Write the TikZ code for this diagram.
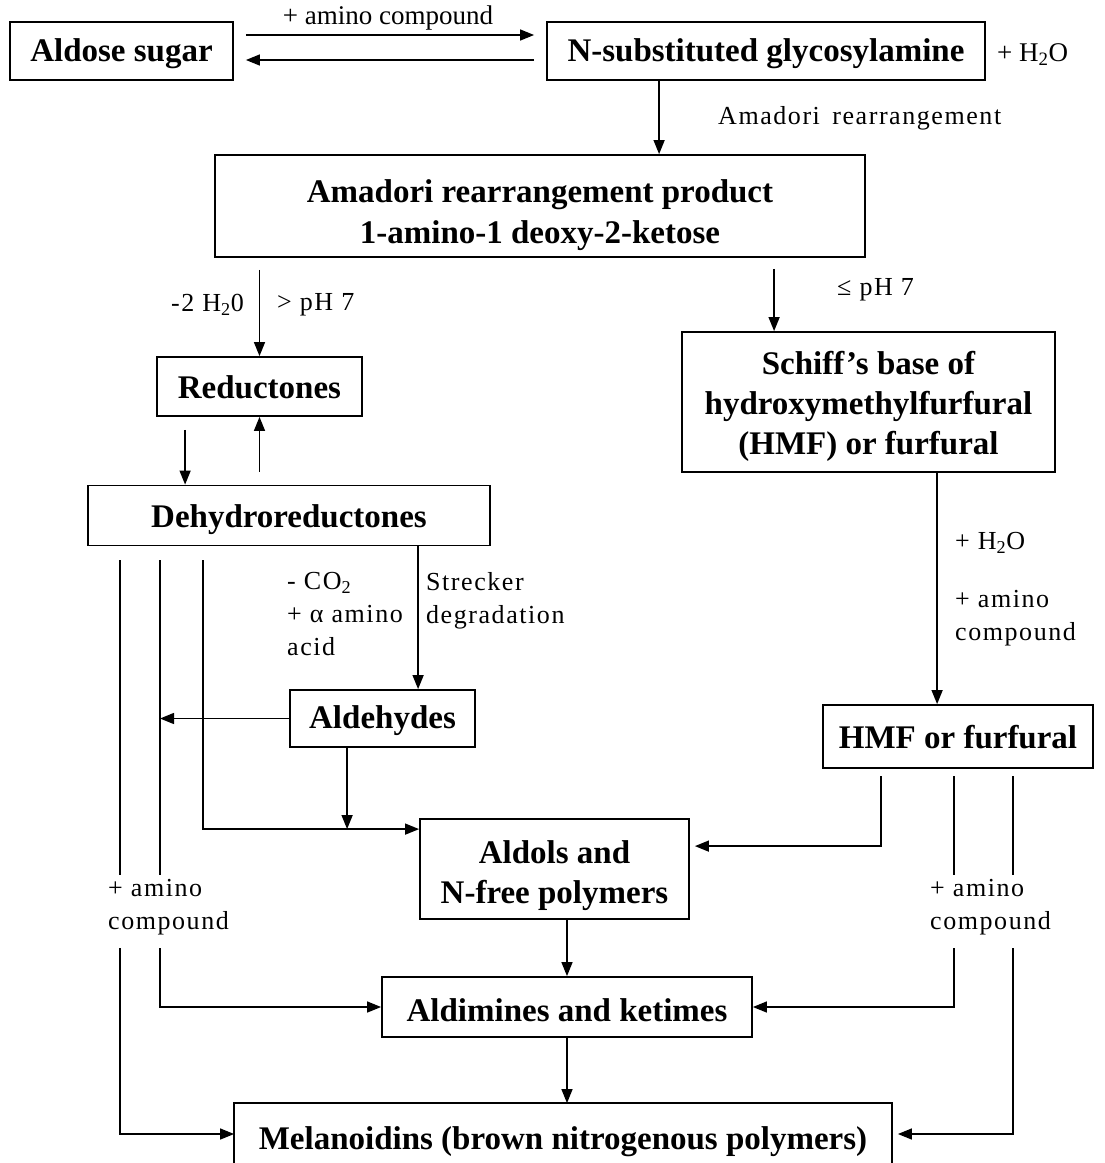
\documentclass[tikz,border=0pt]{standalone}
\usepackage{fontspec}
\setmainfont{Liberation Serif}
\newfontfamily\lblfont[LetterSpace=6]{Liberation Serif}
\newcommand\upstrut[1]{\rule{0pt}{#1}}
\usetikzlibrary{arrows.meta,calc}
\begin{document}
\begin{tikzpicture}[x=1pt,y=-1pt,
  box/.style={draw,line width=1.8pt,inner sep=0pt,align=center,
    font=\bfseries\fontsize{33}{40}\selectfont},
  lab/.style={inner sep=0pt,align=left,font=\lblfont\fontsize{26}{33}\selectfont},
  toplab/.style={inner sep=0pt,font=\fontsize{27}{30}\selectfont},
  conn/.style={line width=1.4pt},
  arr/.style={conn,-{Triangle[length=14pt,width=11pt]}},
]
\useasboundingbox (0,0) rectangle (1105,1163);

% boxes
\node[box,minimum width=223pt,minimum height=58pt] (aldose) at (121.5,51) {\upstrut{28.6pt}Aldose sugar};
\node[box,minimum width=438pt,minimum height=58pt] (nsub) at (766,51) {\upstrut{28.6pt}N-substituted glycosylamine};
\node[box,minimum width=650pt,minimum height=102pt,font=\bfseries\fontsize{33}{41}\selectfont] (amadori) at (540,206)
  {\upstrut{41pt}Amadori rearrangement product\\1-amino-1 deoxy-2-ketose};
\node[box,minimum width=205pt,minimum height=59pt] (reduct) at (259.5,386.5) {\upstrut{24.6pt}Reductones};
\node[box,minimum width=373pt,minimum height=140pt] (schiff) at (868.5,402)
  {\upstrut{32.5pt}Schiff’s base of\\hydroxymethylfurfural\\(HMF) or furfural};
\node[box,minimum width=402pt,minimum height=60pt] (dehydro) at (289,515.5) {\upstrut{30.6pt}Dehydroreductones};
\node[box,minimum width=185pt,minimum height=57pt] (aldeh) at (382.5,718.5) {\upstrut{26.6pt}Aldehydes};
\node[box,minimum width=270pt,minimum height=63pt] (hmf) at (958,736.5) {\upstrut{24.6pt}HMF or furfural};
\node[box,minimum width=269pt,minimum height=100pt] (aldols) at (554.5,869) {\upstrut{36.6pt}Aldols and\\N-free polymers};
\node[box,minimum width=370pt,minimum height=60pt] (aldim) at (567,1007) {\upstrut{28.6pt}Aldimines and ketimes};
\node[box,draw=none,minimum width=656pt,minimum height=60pt] (mel) at (563,1134)
  {\upstrut{39pt}Melanoidins (brown nitrogenous polymers)};
\draw[line width=1.8pt] (mel.south west) -- (mel.north west) -- (mel.north east) -- (mel.south east);

% labels
\node[toplab] (lab1) at (388,18) {+ amino compound};
\node[toplab,anchor=west] (lab2) at (997,55) {+ H\textsubscript{2}O};
\node[lab,anchor=west] (lab3) at (718,118) {Amadori\, rearrangement};
\node[lab,anchor=east] (lab4) at (244,305) {-2 H\textsubscript{2}0};
\node[lab,anchor=west] (lab5) at (277,305) {> pH 7};
\node[lab,anchor=west] (lab6) at (837,290) {≤ pH 7};
\node[lab,anchor=north west] (lab7) at (287,572) {- CO\textsubscript{2}\\+ α amino\\acid};
\node[lab,anchor=north west] (lab8) at (426,572) {Strecker\\degradation};
\node[lab,anchor=west] (lab9) at (955,543) {+ H\textsubscript{2}O};
\node[lab,anchor=west] (lab10) at (955,618) {+ amino\\compound};
\node[lab,anchor=west] (lab11) at (108,907) {+ amino\\compound};
\node[lab,anchor=west] (lab12) at (930,907) {+ amino\\compound};

% top reversible arrows
\draw[arr] ($(aldose.east)+(12,-16)$) -- ($(nsub.west)+(-12,-16)$);
\draw[arr] ($(nsub.west)+(-12,9)$) -- ($(aldose.east)+(12,9)$);

% main column
\coordinate (n1) at ($(nsub.south west)+(113,0)$);
\draw[arr] (n1) -- (n1 |- amadori.north);
\draw[arr] ($(reduct.north |- amadori.south)+(0,12)$) -- (reduct.north);
\coordinate (s1) at ($(schiff.north west)+(93,0)$);
\draw[arr] ($(s1 |- amadori.south)+(0,11)$) -- (s1);

% reductones <-> dehydroreductones
\coordinate (r1) at ($(reduct.south west)+(29,0)$);
\draw[arr] ($(r1)+(0,13)$) -- (r1 |- dehydro.north);
\draw[arr] ($(reduct.south |- dehydro.north)+(0,-13)$) -- (reduct.south);

% Strecker
\coordinate (d1) at ($(dehydro.south west)+(331,0)$);
\draw[arr] (d1) -- (d1 |- aldeh.north);

% left side lines
\coordinate (L1a) at (120,560); \coordinate (L1b) at (120,875);
\coordinate (L1c) at (120,948);
\coordinate (L2a) at (160,560); \coordinate (L2b) at (160,875);
\coordinate (L2c) at (160,948);
\coordinate (L3a) at (203,560);
\coordinate (aldolsin) at ($(aldols.north west)+(0,11)$);
\draw[conn] (L1a) -- (L1b);
\draw[conn] (L2a) -- (L2b);
\draw[arr] (L1c) |- (mel.west);
\draw[arr] (L2c) |- (aldim.west);
\draw[arr] (L3a) |- (aldolsin);
\draw[arr] (aldeh.west) -- (L2a |- aldeh.west);
\coordinate (a2) at ($(aldeh.south west)+(58,0)$);
\draw[arr] (a2) -- (a2 |- aldolsin);

% Schiff -> HMF
\coordinate (s2) at ($(schiff.south west)+(256,0)$);
\draw[arr] (s2) -- (s2 |- hmf.north);

% right side lines
\coordinate (R1a) at (881,776);
\coordinate (aldolsR) at ($(aldols.north east)+(0,28)$);
\draw[arr,shorten >=5pt] (R1a) |- (aldolsR);
\coordinate (R2a) at (954,776); \coordinate (R2b) at (954,875); \coordinate (R2c) at (954,948);
\coordinate (R3a) at (1013,776); \coordinate (R3b) at (1013,875); \coordinate (R3c) at (1013,948);
\draw[conn] (R2a) -- (R2b);
\draw[conn] (R3a) -- (R3b);
\draw[arr] (R2c) |- (aldim.east);
\draw[arr,shorten >=6pt] (R3c) |- (mel.east);

% lower main column
\draw[arr] (aldim.north |- aldols.south) -- (aldim.north);
\draw[arr] (aldim.south) -- (aldim.south |- mel.north);
\end{tikzpicture}
\end{document}
